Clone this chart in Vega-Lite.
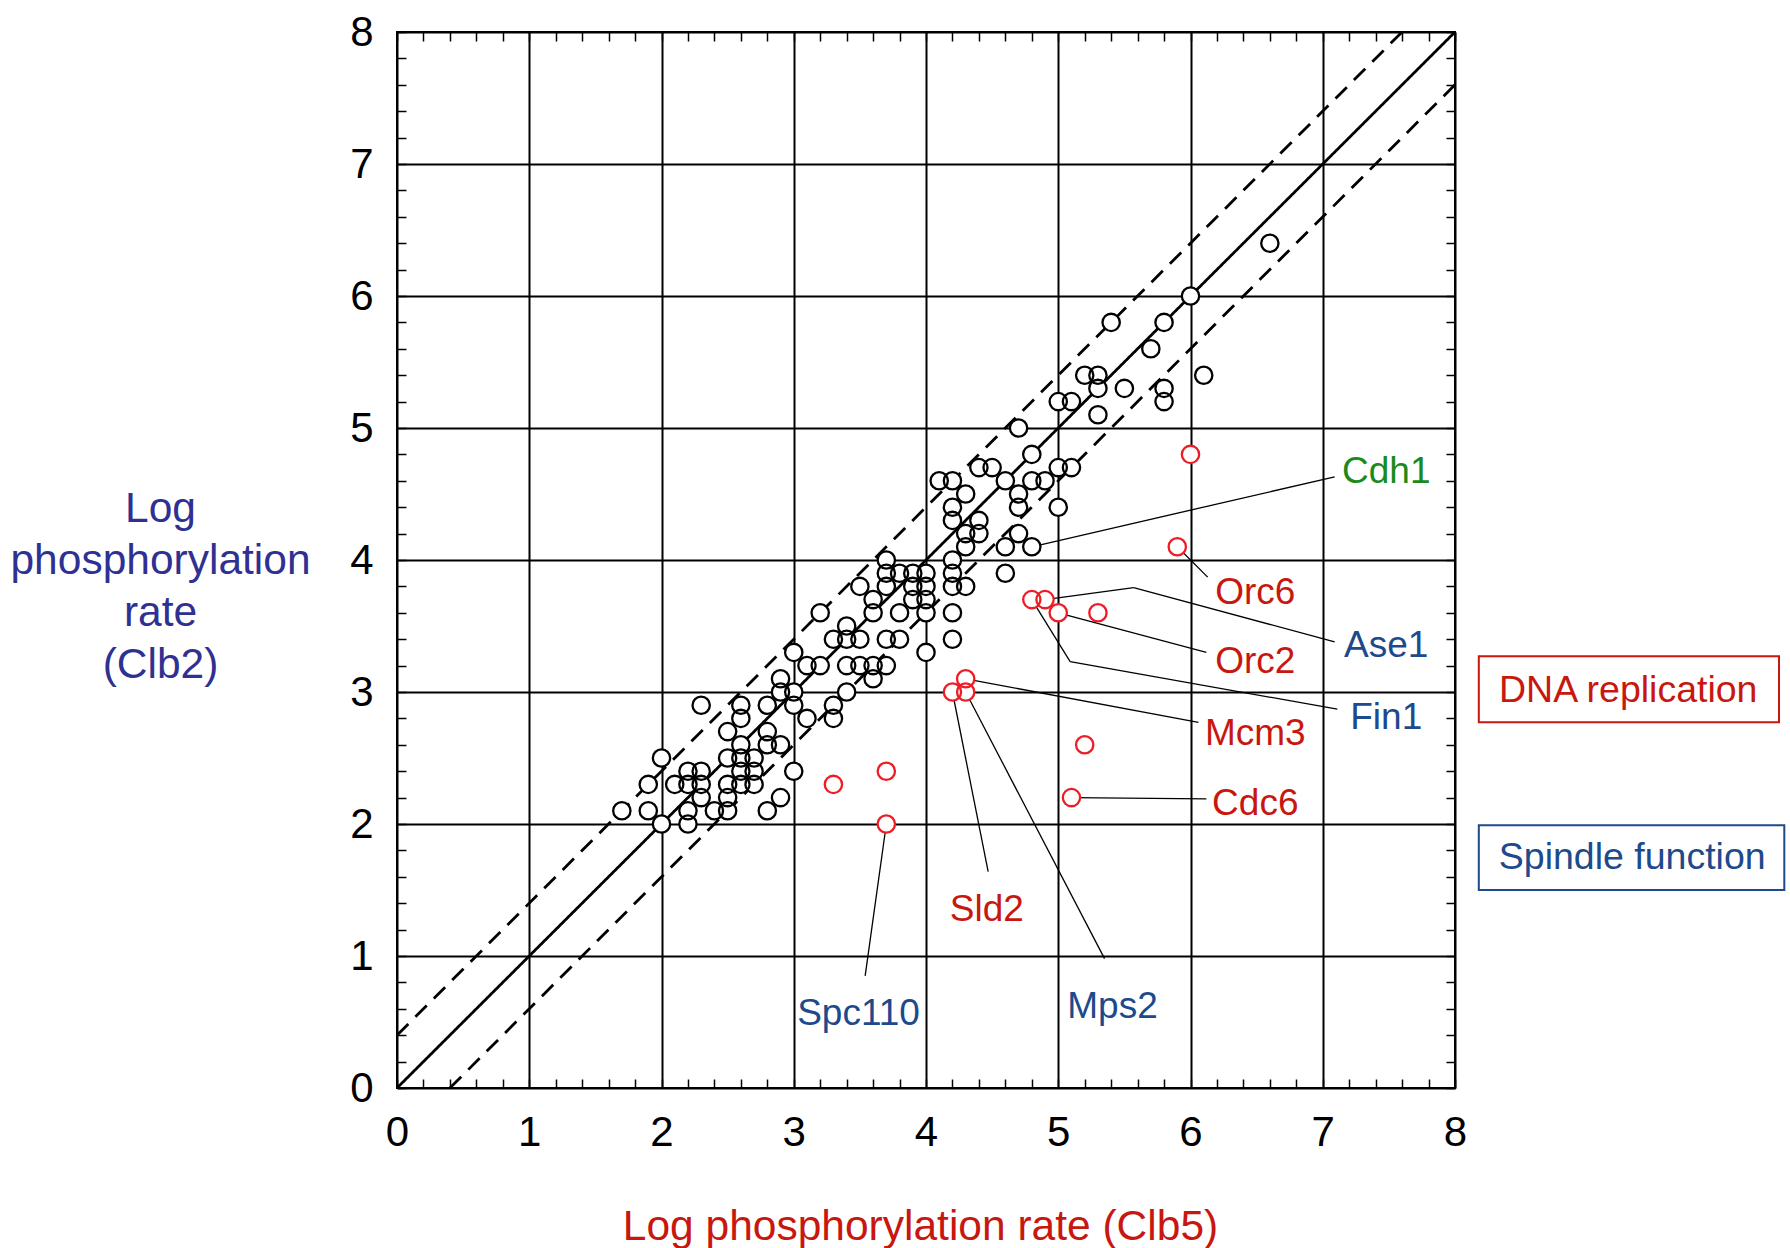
{
  "$schema": "https://vega.github.io/schema/vega-lite/v6.json",
  "width": 1058,
  "height": 1056,
  "autosize": {"type": "none"},
  "padding": {"left": 397, "top": 32, "right": 335, "bottom": 160},
  "background": "white",
  "config": {
    "view": {"stroke": "black", "strokeWidth": 2},
    "font": "Liberation Sans"
  },
  "resolve": {"axis": {"x": "independent", "y": "independent"}},
  "datasets": {
    "diagonals": [
      {"line": "identity", "x": 0, "y": 0, "x2": 8, "y2": 8},
      {"line": "upper", "x": 0, "y": 0.4, "x2": 7.6, "y2": 8},
      {"line": "lower", "x": 0.4, "y": 0, "x2": 8, "y2": 7.6}
    ],
    "leaders": [
      {"label": "Cdh1", "x": 4.8, "y": 4.1, "x2": 7.09, "y2": 4.63},
      {"label": "Orc6", "x": 5.9, "y": 4.1, "x2": 6.13, "y2": 3.87},
      {"label": "Ase1", "x": 4.9, "y": 3.7, "x2": 5.57, "y2": 3.79},
      {"label": "Ase1", "x": 5.57, "y": 3.79, "x2": 7.09, "y2": 3.38},
      {"label": "Orc2", "x": 5.0, "y": 3.6, "x2": 6.12, "y2": 3.3},
      {"label": "Fin1", "x": 4.8, "y": 3.7, "x2": 5.09, "y2": 3.23},
      {"label": "Fin1", "x": 5.09, "y": 3.23, "x2": 7.11, "y2": 2.87},
      {"label": "Mcm3", "x": 4.3, "y": 3.1, "x2": 6.06, "y2": 2.77},
      {"label": "Cdc6", "x": 5.1, "y": 2.2, "x2": 6.12, "y2": 2.19},
      {"label": "Sld2", "x": 4.2, "y": 3.0, "x2": 4.47, "y2": 1.64},
      {"label": "Mps2", "x": 4.3, "y": 3.0, "x2": 5.35, "y2": 0.98},
      {"label": "Spc110", "x": 3.7, "y": 2.0, "x2": 3.54, "y2": 0.85}
    ],
    "labels": [
      {"label": "Cdh1", "cat": "Other", "x": 7.48, "y": 4.67},
      {"label": "Orc6", "cat": "DNA replication", "x": 6.49, "y": 3.75},
      {"label": "Ase1", "cat": "Spindle function", "x": 7.48, "y": 3.35},
      {"label": "Orc2", "cat": "DNA replication", "x": 6.49, "y": 3.23},
      {"label": "Fin1", "cat": "Spindle function", "x": 7.48, "y": 2.8},
      {"label": "Mcm3", "cat": "DNA replication", "x": 6.49, "y": 2.68},
      {"label": "Cdc6", "cat": "DNA replication", "x": 6.49, "y": 2.15},
      {"label": "Sld2", "cat": "DNA replication", "x": 4.46, "y": 1.35},
      {"label": "Mps2", "cat": "Spindle function", "x": 5.41, "y": 0.61},
      {"label": "Spc110", "cat": "Spindle function", "x": 3.49, "y": 0.56}
    ],
    "boxes": [
      {"cat": "DNA replication", "x": 8.18, "x2": 10.45, "y": 2.77, "y2": 3.27, "tx": 9.31, "ty": 3.01},
      {"cat": "Spindle function", "x": 8.18, "x2": 10.49, "y": 1.5, "y2": 1.99, "tx": 9.34, "ty": 1.74}
    ],
    "points": [
      {"clb5": 2.0, "clb2": 2.0, "kind": "other"},
      {"clb5": 2.2, "clb2": 2.0, "kind": "other"},
      {"clb5": 1.7, "clb2": 2.1, "kind": "other"},
      {"clb5": 1.9, "clb2": 2.1, "kind": "other"},
      {"clb5": 2.2, "clb2": 2.1, "kind": "other"},
      {"clb5": 2.4, "clb2": 2.1, "kind": "other"},
      {"clb5": 2.5, "clb2": 2.1, "kind": "other"},
      {"clb5": 2.8, "clb2": 2.1, "kind": "other"},
      {"clb5": 2.3, "clb2": 2.2, "kind": "other"},
      {"clb5": 2.5, "clb2": 2.2, "kind": "other"},
      {"clb5": 2.9, "clb2": 2.2, "kind": "other"},
      {"clb5": 1.9, "clb2": 2.3, "kind": "other"},
      {"clb5": 2.1, "clb2": 2.3, "kind": "other"},
      {"clb5": 2.2, "clb2": 2.3, "kind": "other"},
      {"clb5": 2.3, "clb2": 2.3, "kind": "other"},
      {"clb5": 2.5, "clb2": 2.3, "kind": "other"},
      {"clb5": 2.6, "clb2": 2.3, "kind": "other"},
      {"clb5": 2.7, "clb2": 2.3, "kind": "other"},
      {"clb5": 2.2, "clb2": 2.4, "kind": "other"},
      {"clb5": 2.3, "clb2": 2.4, "kind": "other"},
      {"clb5": 2.6, "clb2": 2.4, "kind": "other"},
      {"clb5": 2.7, "clb2": 2.4, "kind": "other"},
      {"clb5": 3.0, "clb2": 2.4, "kind": "other"},
      {"clb5": 2.0, "clb2": 2.5, "kind": "other"},
      {"clb5": 2.5, "clb2": 2.5, "kind": "other"},
      {"clb5": 2.6, "clb2": 2.5, "kind": "other"},
      {"clb5": 2.7, "clb2": 2.5, "kind": "other"},
      {"clb5": 2.6, "clb2": 2.6, "kind": "other"},
      {"clb5": 2.8, "clb2": 2.6, "kind": "other"},
      {"clb5": 2.9, "clb2": 2.6, "kind": "other"},
      {"clb5": 2.5, "clb2": 2.7, "kind": "other"},
      {"clb5": 2.8, "clb2": 2.7, "kind": "other"},
      {"clb5": 2.6, "clb2": 2.8, "kind": "other"},
      {"clb5": 3.1, "clb2": 2.8, "kind": "other"},
      {"clb5": 3.3, "clb2": 2.8, "kind": "other"},
      {"clb5": 2.3, "clb2": 2.9, "kind": "other"},
      {"clb5": 2.6, "clb2": 2.9, "kind": "other"},
      {"clb5": 2.8, "clb2": 2.9, "kind": "other"},
      {"clb5": 3.0, "clb2": 2.9, "kind": "other"},
      {"clb5": 3.3, "clb2": 2.9, "kind": "other"},
      {"clb5": 2.9, "clb2": 3.0, "kind": "other"},
      {"clb5": 3.0, "clb2": 3.0, "kind": "other"},
      {"clb5": 3.4, "clb2": 3.0, "kind": "other"},
      {"clb5": 2.9, "clb2": 3.1, "kind": "other"},
      {"clb5": 3.6, "clb2": 3.1, "kind": "other"},
      {"clb5": 3.1, "clb2": 3.2, "kind": "other"},
      {"clb5": 3.2, "clb2": 3.2, "kind": "other"},
      {"clb5": 3.4, "clb2": 3.2, "kind": "other"},
      {"clb5": 3.5, "clb2": 3.2, "kind": "other"},
      {"clb5": 3.6, "clb2": 3.2, "kind": "other"},
      {"clb5": 3.7, "clb2": 3.2, "kind": "other"},
      {"clb5": 3.0, "clb2": 3.3, "kind": "other"},
      {"clb5": 4.0, "clb2": 3.3, "kind": "other"},
      {"clb5": 3.3, "clb2": 3.4, "kind": "other"},
      {"clb5": 3.4, "clb2": 3.4, "kind": "other"},
      {"clb5": 3.5, "clb2": 3.4, "kind": "other"},
      {"clb5": 3.7, "clb2": 3.4, "kind": "other"},
      {"clb5": 3.8, "clb2": 3.4, "kind": "other"},
      {"clb5": 4.2, "clb2": 3.4, "kind": "other"},
      {"clb5": 3.4, "clb2": 3.5, "kind": "other"},
      {"clb5": 3.2, "clb2": 3.6, "kind": "other"},
      {"clb5": 3.6, "clb2": 3.6, "kind": "other"},
      {"clb5": 3.8, "clb2": 3.6, "kind": "other"},
      {"clb5": 4.0, "clb2": 3.6, "kind": "other"},
      {"clb5": 4.2, "clb2": 3.6, "kind": "other"},
      {"clb5": 3.6, "clb2": 3.7, "kind": "other"},
      {"clb5": 3.9, "clb2": 3.7, "kind": "other"},
      {"clb5": 4.0, "clb2": 3.7, "kind": "other"},
      {"clb5": 3.5, "clb2": 3.8, "kind": "other"},
      {"clb5": 3.7, "clb2": 3.8, "kind": "other"},
      {"clb5": 3.9, "clb2": 3.8, "kind": "other"},
      {"clb5": 4.0, "clb2": 3.8, "kind": "other"},
      {"clb5": 4.2, "clb2": 3.8, "kind": "other"},
      {"clb5": 4.3, "clb2": 3.8, "kind": "other"},
      {"clb5": 3.7, "clb2": 3.9, "kind": "other"},
      {"clb5": 3.8, "clb2": 3.9, "kind": "other"},
      {"clb5": 3.9, "clb2": 3.9, "kind": "other"},
      {"clb5": 4.0, "clb2": 3.9, "kind": "other"},
      {"clb5": 4.2, "clb2": 3.9, "kind": "other"},
      {"clb5": 4.6, "clb2": 3.9, "kind": "other"},
      {"clb5": 3.7, "clb2": 4.0, "kind": "other"},
      {"clb5": 4.2, "clb2": 4.0, "kind": "other"},
      {"clb5": 4.3, "clb2": 4.1, "kind": "other"},
      {"clb5": 4.6, "clb2": 4.1, "kind": "other"},
      {"clb5": 4.8, "clb2": 4.1, "kind": "other"},
      {"clb5": 4.3, "clb2": 4.2, "kind": "other"},
      {"clb5": 4.4, "clb2": 4.2, "kind": "other"},
      {"clb5": 4.7, "clb2": 4.2, "kind": "other"},
      {"clb5": 4.2, "clb2": 4.3, "kind": "other"},
      {"clb5": 4.4, "clb2": 4.3, "kind": "other"},
      {"clb5": 4.2, "clb2": 4.4, "kind": "other"},
      {"clb5": 4.7, "clb2": 4.4, "kind": "other"},
      {"clb5": 5.0, "clb2": 4.4, "kind": "other"},
      {"clb5": 4.3, "clb2": 4.5, "kind": "other"},
      {"clb5": 4.7, "clb2": 4.5, "kind": "other"},
      {"clb5": 4.1, "clb2": 4.6, "kind": "other"},
      {"clb5": 4.2, "clb2": 4.6, "kind": "other"},
      {"clb5": 4.6, "clb2": 4.6, "kind": "other"},
      {"clb5": 4.8, "clb2": 4.6, "kind": "other"},
      {"clb5": 4.9, "clb2": 4.6, "kind": "other"},
      {"clb5": 4.4, "clb2": 4.7, "kind": "other"},
      {"clb5": 4.5, "clb2": 4.7, "kind": "other"},
      {"clb5": 5.0, "clb2": 4.7, "kind": "other"},
      {"clb5": 5.1, "clb2": 4.7, "kind": "other"},
      {"clb5": 4.8, "clb2": 4.8, "kind": "other"},
      {"clb5": 4.7, "clb2": 5.0, "kind": "other"},
      {"clb5": 5.3, "clb2": 5.1, "kind": "other"},
      {"clb5": 5.0, "clb2": 5.2, "kind": "other"},
      {"clb5": 5.1, "clb2": 5.2, "kind": "other"},
      {"clb5": 5.8, "clb2": 5.2, "kind": "other"},
      {"clb5": 5.3, "clb2": 5.3, "kind": "other"},
      {"clb5": 5.5, "clb2": 5.3, "kind": "other"},
      {"clb5": 5.8, "clb2": 5.3, "kind": "other"},
      {"clb5": 5.2, "clb2": 5.4, "kind": "other"},
      {"clb5": 5.3, "clb2": 5.4, "kind": "other"},
      {"clb5": 6.1, "clb2": 5.4, "kind": "other"},
      {"clb5": 5.7, "clb2": 5.6, "kind": "other"},
      {"clb5": 5.4, "clb2": 5.8, "kind": "other"},
      {"clb5": 5.8, "clb2": 5.8, "kind": "other"},
      {"clb5": 6.0, "clb2": 6.0, "kind": "other"},
      {"clb5": 6.6, "clb2": 6.4, "kind": "other"},
      {"clb5": 6.0, "clb2": 4.8, "kind": "highlight"},
      {"clb5": 5.9, "clb2": 4.1, "kind": "highlight"},
      {"clb5": 4.8, "clb2": 3.7, "kind": "highlight"},
      {"clb5": 4.9, "clb2": 3.7, "kind": "highlight"},
      {"clb5": 5.0, "clb2": 3.6, "kind": "highlight"},
      {"clb5": 5.3, "clb2": 3.6, "kind": "highlight"},
      {"clb5": 4.3, "clb2": 3.1, "kind": "highlight"},
      {"clb5": 4.2, "clb2": 3.0, "kind": "highlight"},
      {"clb5": 4.3, "clb2": 3.0, "kind": "highlight"},
      {"clb5": 5.2, "clb2": 2.6, "kind": "highlight"},
      {"clb5": 5.1, "clb2": 2.2, "kind": "highlight"},
      {"clb5": 3.3, "clb2": 2.3, "kind": "highlight"},
      {"clb5": 3.7, "clb2": 2.4, "kind": "highlight"},
      {"clb5": 3.7, "clb2": 2.0, "kind": "highlight"}
    ]
  },
  "layer": [
    {
      "data": {"name": "diagonals"},
      "mark": {"type": "rule", "strokeWidth": 2.8, "color": "black"},
      "encoding": {
        "x": {
          "field": "x", "type": "quantitative",
          "scale": {"domain": [0, 8], "nice": false, "zero": false},
          "axis": {
            "orient": "bottom",
            "title": "Log phosphorylation rate (Clb5)",
            "values": [0,0.2,0.4,0.6,0.8,1,1.2,1.4,1.6,1.8,2,2.2,2.4,2.6,2.8,3,3.2,3.4,3.6,3.8,4,4.2,4.4,4.6,4.8,5,5.2,5.4,5.6,5.8,6,6.2,6.4,6.6,6.8,7,7.2,7.4,7.6,7.8,8],
            "labelExpr": "datum.value % 1 === 0 ? format(datum.value, 'd') : ''",
            "labelOverlap": false, "labelFlush": false,
            "grid": false, "domain": false,
            "tickSize": -9, "tickWidth": 1.5, "tickColor": "black",
            "labelFont": "Liberation Sans", "labelFontSize": 42, "labelColor": "black", "labelPadding": 33,
            "titleFont": "Liberation Sans", "titleFontSize": 42.5, "titleFontWeight": "normal", "titleColor": "#c8170e",
            "titleX": 523, "titleY": 151, "titleBaseline": "alphabetic", "titleAlign": "center", "titleAnchor": null
          }
        },
        "y": {
          "field": "y", "type": "quantitative",
          "scale": {"domain": [0, 8], "nice": false, "zero": false},
          "axis": {
            "orient": "left",
            "title": ["Log", "phosphorylation", "rate", "(Clb2)"],
            "values": [0,0.2,0.4,0.6,0.8,1,1.2,1.4,1.6,1.8,2,2.2,2.4,2.6,2.8,3,3.2,3.4,3.6,3.8,4,4.2,4.4,4.6,4.8,5,5.2,5.4,5.6,5.8,6,6.2,6.4,6.6,6.8,7,7.2,7.4,7.6,7.8,8],
            "labelExpr": "datum.value % 1 === 0 ? format(datum.value, 'd') : ''",
            "labelOverlap": false, "labelFlush": false,
            "grid": false, "domain": false,
            "tickSize": -9, "tickWidth": 1.5, "tickColor": "black",
            "labelFont": "Liberation Sans", "labelFontSize": 42, "labelColor": "black", "labelPadding": 33,
            "titleFont": "Liberation Sans", "titleFontSize": 42.5, "titleFontWeight": "normal", "titleColor": "#2f3192",
            "titleAngle": 0, "titleX": -237, "titleY": 489, "titleAlign": "center", "titleBaseline": "alphabetic",
            "titleLineHeight": 52, "titleAnchor": null
          }
        },
        "x2": {"field": "x2"},
        "y2": {"field": "y2"},
        "strokeDash": {
          "field": "line", "type": "nominal",
          "scale": {"domain": ["identity", "upper", "lower"], "range": [[1, 0], [16, 10], [16, 10]]},
          "legend": null
        }
      }
    },
    {
      "data": {"name": "leaders"},
      "mark": {"type": "rule", "strokeWidth": 1.3, "color": "black"},
      "encoding": {
        "x": {
          "field": "x", "type": "quantitative",
          "scale": {"domain": [0, 8], "nice": false, "zero": false},
          "axis": {
            "orient": "top", "title": null, "labels": false,
            "values": [0,0.2,0.4,0.6,0.8,1,1.2,1.4,1.6,1.8,2,2.2,2.4,2.6,2.8,3,3.2,3.4,3.6,3.8,4,4.2,4.4,4.6,4.8,5,5.2,5.4,5.6,5.8,6,6.2,6.4,6.6,6.8,7,7.2,7.4,7.6,7.8,8],
            "domain": false, "tickSize": -9, "tickWidth": 1.5, "tickColor": "black",
            "grid": true, "gridColor": "black", "gridWidth": 2,
            "gridOpacity": {"condition": {"test": "datum.value % 1 !== 0", "value": 0}, "value": 1}
          }
        },
        "y": {
          "field": "y", "type": "quantitative",
          "scale": {"domain": [0, 8], "nice": false, "zero": false},
          "axis": {
            "orient": "right", "title": null, "labels": false,
            "values": [0,0.2,0.4,0.6,0.8,1,1.2,1.4,1.6,1.8,2,2.2,2.4,2.6,2.8,3,3.2,3.4,3.6,3.8,4,4.2,4.4,4.6,4.8,5,5.2,5.4,5.6,5.8,6,6.2,6.4,6.6,6.8,7,7.2,7.4,7.6,7.8,8],
            "domain": false, "tickSize": -9, "tickWidth": 1.5, "tickColor": "black",
            "grid": true, "gridColor": "black", "gridWidth": 2,
            "gridOpacity": {"condition": {"test": "datum.value % 1 !== 0", "value": 0}, "value": 1}
          }
        },
        "x2": {"field": "x2"},
        "y2": {"field": "y2"}
      }
    },
    {
      "data": {"name": "points"},
      "mark": {"type": "circle", "size": 300, "color": "white", "opacity": 1},
      "encoding": {
        "x": {"field": "clb5", "type": "quantitative", "scale": {"domain": [0, 8], "nice": false, "zero": false}, "axis": null},
        "y": {"field": "clb2", "type": "quantitative", "scale": {"domain": [0, 8], "nice": false, "zero": false}, "axis": null}
      }
    },
    {
      "data": {"name": "points"},
      "mark": {"type": "point", "shape": "circle", "size": 300, "filled": false, "strokeWidth": 2.3, "opacity": 1},
      "encoding": {
        "x": {"field": "clb5", "type": "quantitative", "scale": {"domain": [0, 8], "nice": false, "zero": false}, "axis": null},
        "y": {"field": "clb2", "type": "quantitative", "scale": {"domain": [0, 8], "nice": false, "zero": false}, "axis": null},
        "stroke": {
          "field": "kind", "type": "nominal",
          "scale": {"domain": ["other", "highlight"], "range": ["black", "#ee1c25"]},
          "legend": null
        }
      }
    },
    {
      "data": {"name": "labels"},
      "mark": {"type": "text", "font": "Liberation Sans", "fontSize": 37, "align": "center", "baseline": "middle"},
      "encoding": {
        "x": {"field": "x", "type": "quantitative", "scale": {"domain": [0, 8], "nice": false, "zero": false}, "axis": null},
        "y": {"field": "y", "type": "quantitative", "scale": {"domain": [0, 8], "nice": false, "zero": false}, "axis": null},
        "text": {"field": "label"},
        "color": {
          "field": "cat", "type": "nominal",
          "scale": {"domain": ["DNA replication", "Spindle function", "Other"], "range": ["#c8170e", "#1c4a8c", "#1a8a1a"]},
          "legend": null
        }
      }
    },
    {
      "data": {"name": "boxes"},
      "mark": {"type": "rect", "filled": false, "strokeWidth": 2},
      "encoding": {
        "x": {"field": "x", "type": "quantitative", "scale": {"domain": [0, 8], "nice": false, "zero": false}, "axis": null},
        "x2": {"field": "x2"},
        "y": {"field": "y", "type": "quantitative", "scale": {"domain": [0, 8], "nice": false, "zero": false}, "axis": null},
        "y2": {"field": "y2"},
        "color": {
          "field": "cat", "type": "nominal",
          "scale": {"domain": ["DNA replication", "Spindle function", "Other"], "range": ["#c8170e", "#1c4a8c", "#1a8a1a"]},
          "legend": null
        }
      }
    },
    {
      "data": {"name": "boxes"},
      "mark": {"type": "text", "font": "Liberation Sans", "fontSize": 37.5, "align": "center", "baseline": "middle"},
      "encoding": {
        "x": {"field": "tx", "type": "quantitative", "scale": {"domain": [0, 8], "nice": false, "zero": false}, "axis": null},
        "y": {"field": "ty", "type": "quantitative", "scale": {"domain": [0, 8], "nice": false, "zero": false}, "axis": null},
        "text": {"field": "cat"},
        "color": {
          "field": "cat", "type": "nominal",
          "scale": {"domain": ["DNA replication", "Spindle function", "Other"], "range": ["#c8170e", "#1c4a8c", "#1a8a1a"]},
          "legend": null
        }
      }
    }
  ]
}
